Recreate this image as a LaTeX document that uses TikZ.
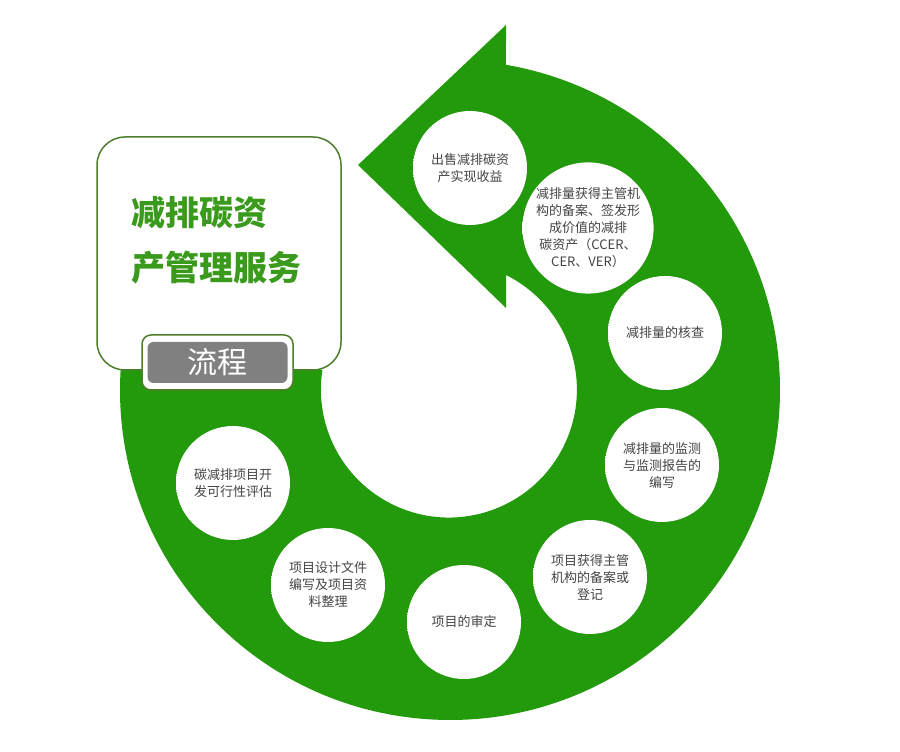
\documentclass[tikz,border=0pt]{standalone}
\usepackage{fontspec}
\newfontfamily\cjk{Noto Sans CJK SC}
\usetikzlibrary{positioning, calc}

\definecolor{ringgreen}{HTML}{229A0B}
\definecolor{titlegreen}{HTML}{3A9A1C}
\definecolor{boxgreen}{HTML}{4E7D2C}
\definecolor{tabgray}{HTML}{808080}
\definecolor{stepgray}{HTML}{444444}

\pgfdeclareradialshading{bubble}{\pgfpoint{0bp}{0bp}}{%
  color(0bp)=(white); color(38bp)=(white); color(47bp)=(black!18);
  color(50bp)=(black!9)}

\begin{document}
\begin{tikzpicture}[
  x=1pt, y=1pt,
  stepnode/.style={circle, shading=bubble, minimum size=114pt, inner sep=0pt,
                   align=center, text=stepgray,
                   font=\cjk\fontsize{13}{17}\selectfont},
  titlebox/.style={draw=boxgreen, line width=1.5pt, fill=white,
                   rounded corners=28pt,
                   minimum width=244pt, minimum height=233pt},
  tabbox/.style={draw=boxgreen, line width=1.5pt, fill=white,
                 rounded corners=9pt,
                 minimum width=151pt, minimum height=55pt},
  tablabel/.style={fill=tabgray, rounded corners=6pt,
                   minimum width=140pt, minimum height=41pt,
                   text=white, font=\cjk\fontsize{30}{30}\selectfont},
  titletext/.style={align=left, text=titlegreen, anchor=west, inner sep=0pt,
                    font=\cjk\bfseries\fontsize{34}{55}\selectfont},
]
\useasboundingbox (0,0) rectangle (900,752);

% ------------------- ring with arrow head -------------------
\coordinate (ctr) at (450,362);
\fill[ringgreen] (ctr) ++(176.53:330)
  arc[start angle=176.53, end angle=440.23, radius=330]
  -- (506,727) -- (358,587) -- (506,444) -- (506,477)
  arc[start angle=423.5, end angle=171.01, radius=128] -- cycle;

% ------------------- title box -------------------
\node[titlebox] (box) at (219,498.5) {};
\node[titletext] (title) at (131,511.5) {减排碳资\\产管理服务};
\node[tabbox] (tab) at (217.5,389.5) {};
\node[tablabel] (flow) at (tab.center) {流程};

% ------------------- steps -------------------
\node[stepnode] (s1) at (470,584) {出售减排碳资\\产实现收益};
\node[stepnode] (s2) at (588,524)
  {减排量获得主管机\\构的备案、签发形\\成价值的减排\\碳资产（CCER、\\CER、VER）};
\node[stepnode] (s3) at (665,419) {减排量的核查};
\node[stepnode] (s4) at (662,287) {减排量的监测\\与监测报告的\\编写};
\node[stepnode] (s5) at (590,175) {项目获得主管\\机构的备案或\\登记};
\node[stepnode] (s6) at (464,130) {项目的审定};
\node[stepnode] (s7) at (328,167) {项目设计文件\\编写及项目资\\料整理};
\node[stepnode] (s8) at (233,269) {碳减排项目开\\发可行性评估};

\end{tikzpicture}
\end{document}
